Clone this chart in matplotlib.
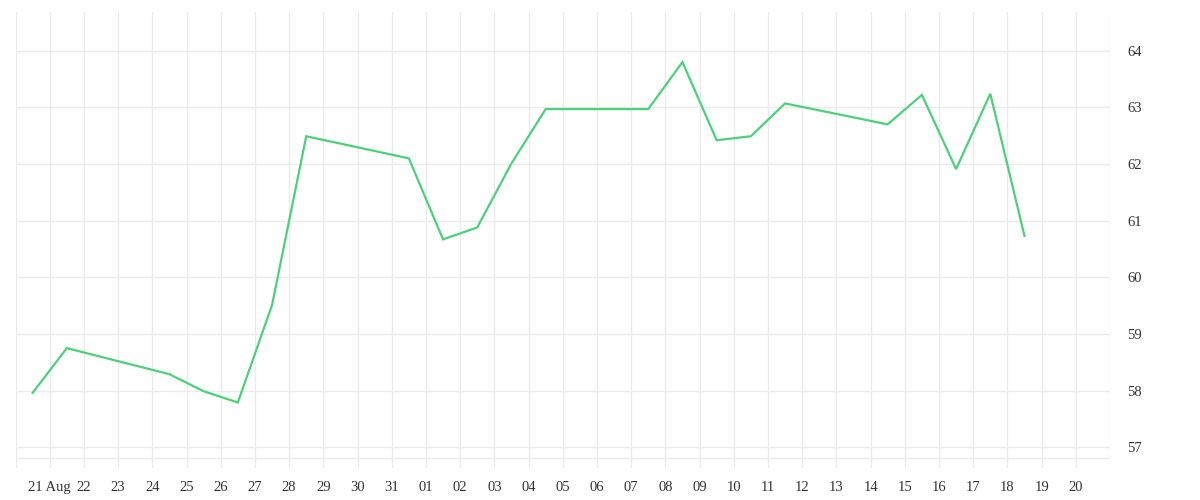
import matplotlib
matplotlib.use("Agg")
import matplotlib.pyplot as plt
import matplotlib.dates as mdates
import pandas as pd

# ---- data ----
dates = ["2020-08-20", "2020-08-21", "2020-08-24", "2020-08-25", "2020-08-26",
         "2020-08-27", "2020-08-28", "2020-08-31", "2020-09-01", "2020-09-02",
         "2020-09-03", "2020-09-04", "2020-09-07", "2020-09-08", "2020-09-09",
         "2020-09-10", "2020-09-11", "2020-09-14", "2020-09-15", "2020-09-16",
         "2020-09-17", "2020-09-18"]
values = [57.96, 58.75, 58.29, 57.99, 57.79, 59.51, 62.49, 62.10, 60.67, 60.88,
          62.01, 62.97, 62.97, 63.80, 62.42, 62.49, 63.07, 62.70, 63.22, 61.91,
          63.24, 60.73]
y_ticks = [57, 58, 59, 60, 61, 62, 63, 64]
x_start, x_end = "2020-08-20", "2020-09-21"

# ---- plot ----
plt.rcParams['font.family'] = ['Liberation Serif', 'DejaVu Serif']
fig = plt.figure(figsize=(12, 5), dpi=100)
ax = fig.add_axes([15.5 / 1200, 1 - 468.3 / 500, (1110 - 15.5) / 1200, (468.3 - 12.3) / 500])

x = pd.to_datetime(dates) + pd.Timedelta(hours=12)
ax.plot(x, values, color="#4cd17a", linewidth=1.6, solid_joinstyle="miter", zorder=3)

xs = pd.Timestamp(x_start)
xe = pd.Timestamp(x_end)
ax.set_xlim(xs, xe)
ax.set_ylim(56.629, 64.678)

day_ticks = pd.date_range(xs, xe, freq="D")
ax.set_xticks(day_ticks)

def fmt(v, pos):
    d = mdates.num2date(v)
    if pos == 0 or pos == len(day_ticks) - 1:
        return ""
    if pos == 1:
        return d.strftime("%d %b")
    return d.strftime("%d")

ax.xaxis.set_major_formatter(plt.FuncFormatter(fmt))
ax.set_yticks(y_ticks)
ax.yaxis.tick_right()

grid_c = "#ebebeb"
ax.grid(True, color=grid_c, linewidth=1.0, zorder=0)
ax.axhline(56.806, color=grid_c, linewidth=1.0, zorder=0)
for s in ax.spines.values():
    s.set_visible(False)

ax.tick_params(axis="both", length=0, labelsize=10.5, colors="#333333")
ax.tick_params(axis="y", pad=12.5)
ax.tick_params(axis="x", pad=9)

fig.savefig("out.png", dpi=100)
